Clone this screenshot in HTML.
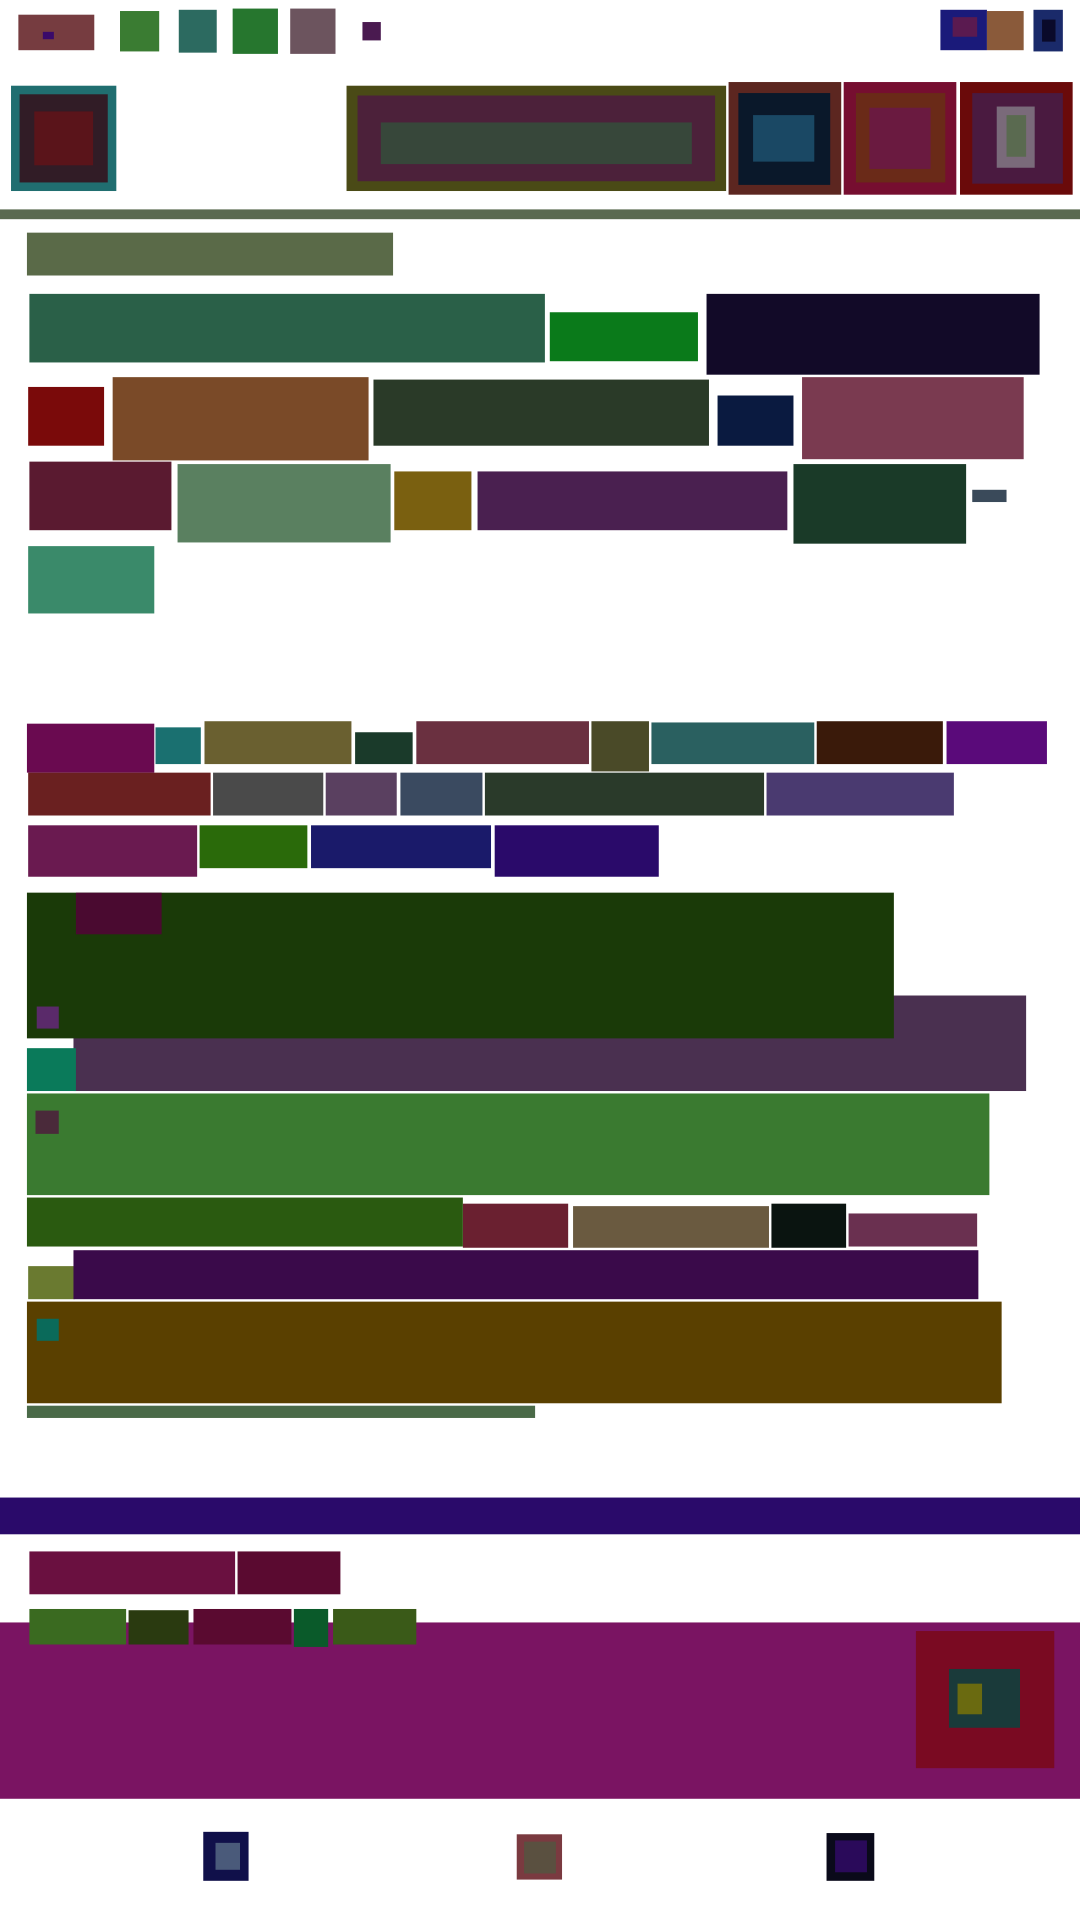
<!DOCTYPE html>
<html><head><meta charset="utf-8"><style>
html,body{margin:0;padding:0;background:#fff;width:1080px;height:1920px;overflow:hidden}
#c{position:absolute;left:0;top:0;width:882px;height:1568px;transform:scale(1.22449);transform-origin:0 0}
#c div{position:absolute}
</style></head><body><div id="c">
<div style="left:15px;top:12px;width:62px;height:29px;background:#763c40"></div>
<div style="left:35px;top:26px;width:9px;height:6px;background:#3a0a6a"></div>
<div style="left:98px;top:9px;width:32px;height:33px;background:#3a7c32"></div>
<div style="left:146px;top:8px;width:31px;height:35px;background:#2c6a60"></div>
<div style="left:190px;top:7px;width:37px;height:37px;background:#26762e"></div>
<div style="left:237px;top:7px;width:37px;height:37px;background:#6c545e"></div>
<div style="left:296px;top:18px;width:15px;height:15px;background:#4a1a50"></div>
<div style="left:768px;top:8px;width:38px;height:33px;background:#1a1a7a"></div>
<div style="left:778px;top:14px;width:20px;height:16px;background:#5a1a50"></div>
<div style="left:806px;top:9px;width:30px;height:32px;background:#8a5a3a"></div>
<div style="left:844px;top:8px;width:24px;height:34px;background:#1a2a6a"></div>
<div style="left:851px;top:16px;width:11px;height:18px;background:#0a0a2a"></div>

<div style="left:9px;top:70px;width:86px;height:86px;background:#206e70"></div>
<div style="left:16px;top:77px;width:72px;height:72px;background:#311c26"></div>
<div style="left:28px;top:91px;width:48px;height:44px;background:#5a141a"></div>
<div style="left:283px;top:70px;width:310px;height:86px;background:#4a4a16"></div>
<div style="left:292px;top:78px;width:292px;height:70px;background:#4c213a"></div>
<div style="left:311px;top:100px;width:254px;height:34px;background:#37473a"></div>
<div style="left:595px;top:67px;width:92px;height:92px;background:#5c2620"></div>
<div style="left:603px;top:76px;width:75px;height:75px;background:#0a182a"></div>
<div style="left:615px;top:94px;width:50px;height:38px;background:#1a4864"></div>
<div style="left:689px;top:67px;width:92px;height:92px;background:#760e30"></div>
<div style="left:699px;top:76px;width:73px;height:73px;background:#6a2a18"></div>
<div style="left:710px;top:88px;width:50px;height:50px;background:#6a1a40"></div>
<div style="left:784px;top:67px;width:92px;height:92px;background:#6a0a0a"></div>
<div style="left:794px;top:76px;width:74px;height:74px;background:#4a1a40"></div>
<div style="left:814px;top:87px;width:31px;height:50px;background:#7a6a7a"></div>
<div style="left:822px;top:94px;width:16px;height:34px;background:#5a6a50"></div>
<div style="left:0;top:171px;width:882px;height:8px;background:#5a6a50"></div>

<div style="left:22px;top:190px;width:299px;height:35px;background:#5a6a48"></div>
<div style="left:24px;top:240px;width:421px;height:56px;background:#2a6048"></div>
<div style="left:449px;top:255px;width:121px;height:40px;background:#0a7a1a"></div>
<div style="left:577px;top:240px;width:272px;height:66px;background:#120a28"></div>
<div style="left:23px;top:316px;width:62px;height:48px;background:#7a0a0a"></div>
<div style="left:92px;top:308px;width:209px;height:68px;background:#7a4a28"></div>
<div style="left:305px;top:310px;width:274px;height:54px;background:#2a3a28"></div>
<div style="left:586px;top:323px;width:62px;height:41px;background:#0a1a40"></div>
<div style="left:655px;top:308px;width:181px;height:67px;background:#7a3a50"></div>
<div style="left:24px;top:377px;width:116px;height:56px;background:#5a1a30"></div>
<div style="left:145px;top:379px;width:174px;height:64px;background:#5a8060"></div>
<div style="left:322px;top:385px;width:63px;height:48px;background:#7a6010"></div>
<div style="left:390px;top:385px;width:253px;height:48px;background:#4a2050"></div>
<div style="left:648px;top:379px;width:141px;height:65px;background:#1a3a28"></div>
<div style="left:794px;top:400px;width:28px;height:10px;background:#3a4a5a"></div>
<div style="left:23px;top:446px;width:103px;height:55px;background:#3a8a6a"></div>

<div style="left:22px;top:591px;width:104px;height:40px;background:#6a0a50"></div>
<div style="left:127px;top:594px;width:37px;height:30px;background:#1a7070"></div>
<div style="left:167px;top:589px;width:120px;height:35px;background:#6a6030"></div>
<div style="left:290px;top:598px;width:47px;height:26px;background:#1a3a2a"></div>
<div style="left:340px;top:589px;width:141px;height:35px;background:#6a3040"></div>
<div style="left:483px;top:589px;width:47px;height:41px;background:#4a4a28"></div>
<div style="left:532px;top:590px;width:133px;height:34px;background:#2a6060"></div>
<div style="left:667px;top:589px;width:103px;height:35px;background:#3a1a0a"></div>
<div style="left:773px;top:589px;width:82px;height:35px;background:#5a0a7a"></div>
<div style="left:23px;top:631px;width:149px;height:35px;background:#6a2020"></div>
<div style="left:174px;top:631px;width:90px;height:35px;background:#4a4a4a"></div>
<div style="left:266px;top:631px;width:58px;height:35px;background:#5a4060"></div>
<div style="left:327px;top:631px;width:67px;height:35px;background:#3a4a60"></div>
<div style="left:396px;top:631px;width:228px;height:35px;background:#2a3a2a"></div>
<div style="left:626px;top:631px;width:153px;height:35px;background:#4a3a70"></div>
<div style="left:23px;top:674px;width:138px;height:42px;background:#6a1a50"></div>
<div style="left:163px;top:674px;width:88px;height:35px;background:#2a6a0a"></div>
<div style="left:254px;top:674px;width:147px;height:35px;background:#1a1a6a"></div>
<div style="left:404px;top:674px;width:134px;height:42px;background:#2a0a6a"></div>

<div style="left:60px;top:813px;width:778px;height:78px;background:#4a3050"></div>
<div style="left:22px;top:729px;width:708px;height:119px;background:#1a3a08"></div>
<div style="left:62px;top:729px;width:70px;height:34px;background:#4a0a30"></div>
<div style="left:30px;top:822px;width:18px;height:18px;background:#5a2a6a"></div>
<div style="left:22px;top:856px;width:40px;height:35px;background:#0a7a5a"></div>
<div style="left:22px;top:893px;width:786px;height:83px;background:#3a7a30"></div>
<div style="left:29px;top:907px;width:19px;height:19px;background:#4a2a3a"></div>
<div style="left:378px;top:983px;width:86px;height:36px;background:#6a2030"></div>
<div style="left:22px;top:978px;width:356px;height:40px;background:#2a5a10"></div>
<div style="left:468px;top:985px;width:160px;height:34px;background:#6a5a40"></div>
<div style="left:630px;top:983px;width:61px;height:36px;background:#0a1410"></div>
<div style="left:693px;top:991px;width:105px;height:27px;background:#6a3050"></div>
<div style="left:23px;top:1034px;width:38px;height:27px;background:#6a7a30"></div>
<div style="left:60px;top:1021px;width:739px;height:40px;background:#3a0a4a"></div>
<div style="left:22px;top:1063px;width:796px;height:83px;background:#5a4000"></div>
<div style="left:30px;top:1077px;width:18px;height:18px;background:#0a6a5a"></div>
<div style="left:22px;top:1148px;width:415px;height:10px;background:#4a6a48"></div>

<div style="left:0;top:1223px;width:882px;height:30px;background:#2a0a6a"></div>
<div style="left:24px;top:1267px;width:168px;height:35px;background:#6a1040"></div>
<div style="left:194px;top:1267px;width:84px;height:35px;background:#5a0a30"></div>
<div style="left:0;top:1325px;width:882px;height:144px;background:#7a1462"></div>
<div style="left:24px;top:1314px;width:79px;height:29px;background:#3a6a20"></div>
<div style="left:105px;top:1315px;width:49px;height:28px;background:#2a3a10"></div>
<div style="left:158px;top:1314px;width:80px;height:29px;background:#5a0a30"></div>
<div style="left:240px;top:1314px;width:28px;height:31px;background:#0a5a2a"></div>
<div style="left:272px;top:1314px;width:68px;height:29px;background:#3a5a18"></div>
<div style="left:748px;top:1332px;width:113px;height:112px;background:#7a0a22"></div>
<div style="left:775px;top:1363px;width:58px;height:48px;background:#1a3a3a"></div>
<div style="left:782px;top:1375px;width:20px;height:25px;background:#6a6a10"></div>

<div style="left:166px;top:1496px;width:37px;height:40px;background:#10104a"></div>
<div style="left:176px;top:1505px;width:20px;height:22px;background:#4a5a7a"></div>
<div style="left:422px;top:1498px;width:37px;height:37px;background:#7a3a40"></div>
<div style="left:428px;top:1504px;width:26px;height:26px;background:#5a5040"></div>
<div style="left:675px;top:1497px;width:39px;height:39px;background:#0a0a1a"></div>
<div style="left:682px;top:1503px;width:26px;height:26px;background:#2a0a5a"></div>
</div></body></html>
